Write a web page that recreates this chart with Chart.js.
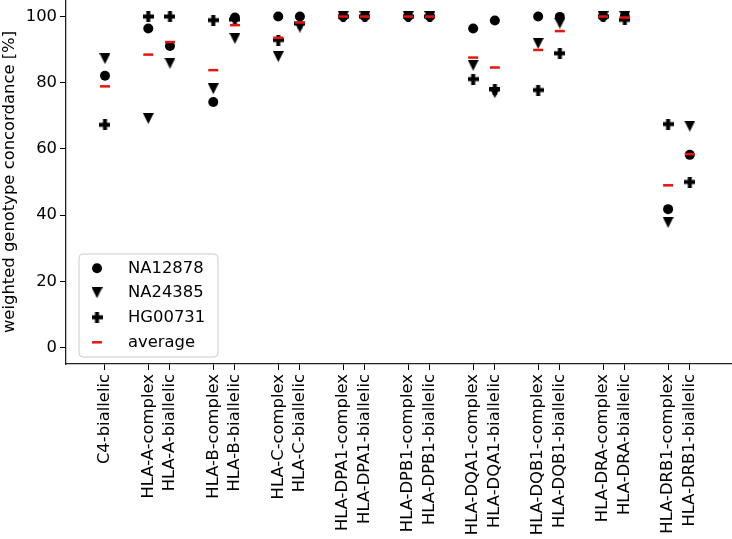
<!DOCTYPE html>
<html>
<head>
<meta charset="utf-8">
<script src="https://cdn.jsdelivr.net/npm/chart.js@4/dist/chart.umd.min.js"></script>
<style>
html,body{margin:0;padding:0;background:#fff;}
#wrap{width:732px;height:539px;}
</style>
</head>
<body>
<div id="wrap"><canvas id="c" width="732" height="539"></canvas></div>
<script>
const categories = ["C4-biallelic","HLA-A-complex","HLA-A-biallelic","HLA-B-complex","HLA-B-biallelic","HLA-C-complex","HLA-C-biallelic","HLA-DPA1-complex","HLA-DPA1-biallelic","HLA-DPB1-complex","HLA-DPB1-biallelic","HLA-DQA1-complex","HLA-DQA1-biallelic","HLA-DQB1-complex","HLA-DQB1-biallelic","HLA-DRA-complex","HLA-DRA-biallelic","HLA-DRB1-complex","HLA-DRB1-biallelic"];
const positions = [0,2,3,5,6,8,9,11,12,14,15,17,18,20,21,23,24,26,27];
const na12878 = [82.1,96.4,91.1,74.2,99.7,100,100,100,100,100,100,96.4,98.8,100,99.9,100,100,41.8,58.2];
const na24385 = [87.3,69.2,85.9,78.2,93.4,87.9,96.8,100,100,100,100,85.3,77.0,91.9,98.0,100,100,37.8,66.9];
const hg00731 = [67.3,100,100,98.9,99.1,92.9,97.9,100,100,100,100,81.1,78.0,77.8,88.9,100,99.0,67.5,50.0];
const average = [78.9,88.5,92.3,83.8,97.4,93.6,98.2,100,100,100,100,87.6,84.6,89.9,95.6,100,99.7,49.0,58.4];
const yTicks = [0,20,40,60,80,100];

function makePlus(){
  const s=11, arm=4, c=document.createElement('canvas'); c.width=s; c.height=s;
  const g=c.getContext('2d'); g.fillStyle='#000'; const a=(s-arm)/2;
  g.fillRect(a,0,arm,s); g.fillRect(0,a,s,arm); return c;
}
function makeTriDown(){
  const s=11, c=document.createElement('canvas'); c.width=s; c.height=s;
  const g=c.getContext('2d'); g.fillStyle='#000';
  g.beginPath(); g.moveTo(0,0); g.lineTo(s,0); g.lineTo(s/2,s); g.closePath(); g.fill(); return c;
}
const plusImg = makePlus();
const triImg = makeTriDown();

function pts(vals){ return vals.map((v,i)=>({x:positions[i], y:v})); }

const FS = 16.4;
Chart.defaults.font.family = "'DejaVu Sans', sans-serif";
Chart.defaults.font.size = FS;
Chart.defaults.color = '#000';

const legendPlugin = {
  id:'insideLegend',
  afterDraw(chart){
    const ctx = chart.ctx;
    ctx.save();
    const bx=79, by=254, bw=139, bh=103, r=4;
    ctx.beginPath();
    ctx.moveTo(bx+r,by); ctx.lineTo(bx+bw-r,by); ctx.quadraticCurveTo(bx+bw,by,bx+bw,by+r);
    ctx.lineTo(bx+bw,by+bh-r); ctx.quadraticCurveTo(bx+bw,by+bh,bx+bw-r,by+bh);
    ctx.lineTo(bx+r,by+bh); ctx.quadraticCurveTo(bx,by+bh,bx,by+bh-r);
    ctx.lineTo(bx,by+r); ctx.quadraticCurveTo(bx,by,bx+r,by); ctx.closePath();
    ctx.fillStyle='rgba(255,255,255,0.8)'; ctx.fill();
    ctx.strokeStyle='#cccccc'; ctx.lineWidth=1; ctx.stroke();
    const rows=[268.3,292.7,317.3,342.3];
    const mx=97, tx=128;
    chart.data.datasets.forEach((ds,i)=>{
      const y=rows[i];
      const st=ds.pointStyle;
      if (st==='circle'){
        ctx.beginPath(); ctx.arc(mx,y,ds.pointRadius,0,Math.PI*2); ctx.fillStyle='#000'; ctx.fill();
      } else if (st==='line'){
        ctx.beginPath(); ctx.moveTo(mx-ds.pointRadius,y); ctx.lineTo(mx+ds.pointRadius,y);
        ctx.strokeStyle=ds.borderColor; ctx.lineWidth=ds.borderWidth; ctx.stroke();
      } else {
        ctx.drawImage(st, mx-st.width/2, y-st.height/2);
      }
      ctx.fillStyle='#000'; ctx.font=FS+"px 'DejaVu Sans'"; ctx.textBaseline='middle'; ctx.textAlign='left';
      ctx.fillText(ds.label, tx, y);
    });
    ctx.restore();
  }
};

new Chart(document.getElementById('c'), {
  type:'scatter',
  data:{
    datasets:[
      {label:'NA12878', data:pts(na12878), pointStyle:'circle', pointRadius:5, backgroundColor:'#000', borderWidth:0, order:4},
      {label:'NA24385', data:pts(na24385), pointStyle:triImg, pointRadius:5.5, backgroundColor:'#000', borderWidth:0, order:3},
      {label:'HG00731', data:pts(hg00731), pointStyle:plusImg, pointRadius:5.5, backgroundColor:'#000', borderWidth:0, order:2},
      {label:'average', data:pts(average), pointStyle:'line', pointRadius:5, borderColor:'#e8140f', backgroundColor:'#e8140f', borderWidth:2.5, order:1}
    ]
  },
  options:{
    responsive:false,
    animation:false,
    events:[],
    layout:{padding:0, autoPadding:false},
    plugins:{legend:{display:false}, tooltip:{enabled:false}},
    scales:{
      x:{
        type:'linear', min:-1.8, max:28.95,
        grid:{display:true, drawOnChartArea:false, drawTicks:true, tickLength:6, color:'#000', lineWidth:1},
        border:{display:true, color:'#222', width:1.3},
        ticks:{autoSkip:false, minRotation:90, maxRotation:90, padding:4, callback:(v,i)=>categories[i]},
        afterBuildTicks:(s)=>{ s.ticks = positions.map(p=>({value:p})); },
        afterFit:(s)=>{ s.height = 175; s.paddingLeft=0; s.paddingRight=0; }
      },
      y:{
        type:'linear', min:-5, max:105,
        grid:{display:true, drawOnChartArea:false, drawTicks:true, tickLength:6, color:'#000', lineWidth:1},
        border:{display:true, color:'#222', width:1.3},
        ticks:{padding:3},
        title:{display:true, text:'weighted genotype concordance [%]', padding:{top:0,bottom:0}, font:{size:FS}},
        afterBuildTicks:(s)=>{ s.ticks = yTicks.map(v=>({value:v})); },
        afterFit:(s)=>{ s.width = 66; s.paddingTop=0; s.paddingBottom=0; }
      }
    }
  },
  plugins:[legendPlugin]
});
</script>
</body>
</html>
